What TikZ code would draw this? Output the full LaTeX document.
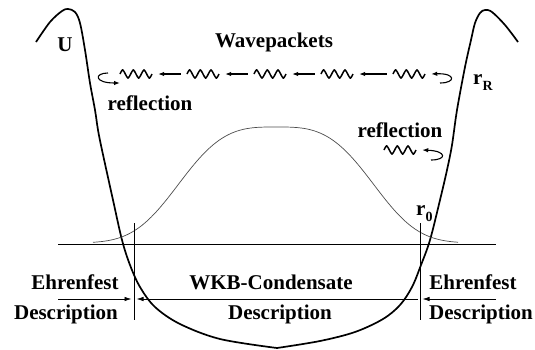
\documentclass[tikz,border=0pt]{standalone}
\usepackage{fontspec}
\setmainfont{Liberation Serif}
\usetikzlibrary{arrows.meta}
\newcommand{\lowidx}[1]{\raisebox{-0.3em}{\fontsize{14}{14}\selectfont #1}}

\begin{document}
\begin{tikzpicture}[x=1pt,y=-1pt,
  lbl/.style={font=\fontsize{21}{24}\selectfont\bfseries,inner sep=0pt},
  pot/.style={line width=1.7pt,line join=round},
  wavefn/.style={black!70,line width=0.7pt},
  axisline/.style={line width=0.8pt},
  dim/.style={line width=0.8pt,-{Latex[length=7pt,width=4.5pt]},shorten >=2.5pt},
  flow/.style={line width=1.1pt,-{Latex[length=6pt,width=4.5pt]}},
  packet/.pic={
    \draw[line width=1.5pt,line join=round] plot[domain=-16:16,samples=13,smooth,tension=0.5,variable=\t] (\t,{-4.2*sin((\t+16)*33.75)});
    \node[minimum width=44pt,minimum height=10pt,inner sep=0pt] (-box) at (0,0) {};
  }]
\useasboundingbox (0,0) rectangle (535,349);
% ---- potential U
\draw[pot] plot[smooth,tension=0.55] coordinates {(36,42) (50,22) (62,11) (68,9) (75,12) (80,23) (85,50) (90,83) (95,110) (98,130) (102,150) (113,200) (122,240) (130,265) (140,287) (155,307) (180,324) (220,339) (277,348)};
\draw[pot] plot[smooth,tension=0.55] coordinates {(277,348) (320,341) (355,332) (383,319) (400,305) (412,287) (421,265) (430,240) (440,200) (447,170) (452,145) (457,110) (465,67) (471,40) (475,23) (480,13) (485,10) (492,12) (505,25) (518,42)};
% ---- condensate profile
\draw[wavefn] plot[domain=93:458,samples=120,smooth,variable=\t] (\t,{243-116*exp(-(abs(\t-276)/110)^3.2)});
% ---- axis and borders r_0
\coordinate (al) at (58,244);
\coordinate (ar) at (496,244);
\draw[axisline] (al) -- (ar);
\coordinate (lt) at (134,223);
\coordinate (lb) at (134,320);
\coordinate (rt) at (420,223);
\coordinate (rb) at (420,320);
\draw[axisline] (lt) -- (lb);
\draw[axisline] (rt) -- (rb);
\coordinate (ll) at (58,299);
\coordinate (lm) at (134,299);
\coordinate (rm) at (420,299);
\coordinate (rr) at (496,299);
\draw[dim] (ll) -- (lm);
\draw[dim,{Latex[length=7pt,width=4.5pt]}-,shorten <=2.5pt] (lm) -- (rm);
\draw[dim] (rr) -- (rm);
% ---- wavepackets
\pic (p1) at (136,74) {packet};
\pic (p2) at (203,74) {packet};
\pic (p3) at (270,74) {packet};
\pic (p4) at (337,74) {packet};
\pic (p5) at (409,74) {packet};
\pic (p6) at (400,150) {packet};
\draw[flow] (p2-box) -- (p1-box);
\draw[flow] (p3-box) -- (p2-box);
\draw[flow] (p4-box) -- (p3-box);
\draw[flow] (p5-box) -- (p4-box);
% ---- reflections
\coordinate (cl) at (108,73);
\coordinate (cla) at (120,83);
\draw[flow] (cl) .. controls (94,73) and (94,83) .. (cla);
\coordinate (cr) at (440,83);
\draw[flow] (cr) .. controls (456,83) and (456,73) .. (p5-box.east);
\coordinate (cs) at (431,160);
\draw[flow] (cs) .. controls (447,160) and (447,151) .. (p6-box.east);
% ---- labels
\node[lbl] (u) at (65,45) {U};
\node[lbl,anchor=base] (wp) at (274,47) {Wavepackets};
\node[lbl,anchor=base] (refl) at (150,110) {reflection};
\node[lbl,anchor=base] (refr) at (400,137) {reflection};
\node[lbl,anchor=base west] (rR) at (473,84) {r\lowidx{R}};
\node[lbl,anchor=base west] (r0) at (416,215) {r\lowidx{0}};
\node[lbl,anchor=base] (ehl) at (75,289) {Ehrenfest};
\node[lbl,anchor=base] (del) at (66,319) {Description};
\node[lbl,anchor=base] (wkb) at (271,289) {WKB-Condensate};
\node[lbl,anchor=base] (dem) at (280,319) {Description};
\node[lbl,anchor=base] (ehr) at (473,289) {Ehrenfest};
\node[lbl,anchor=base] (der) at (481,319) {Description};
\end{tikzpicture}
\end{document}
